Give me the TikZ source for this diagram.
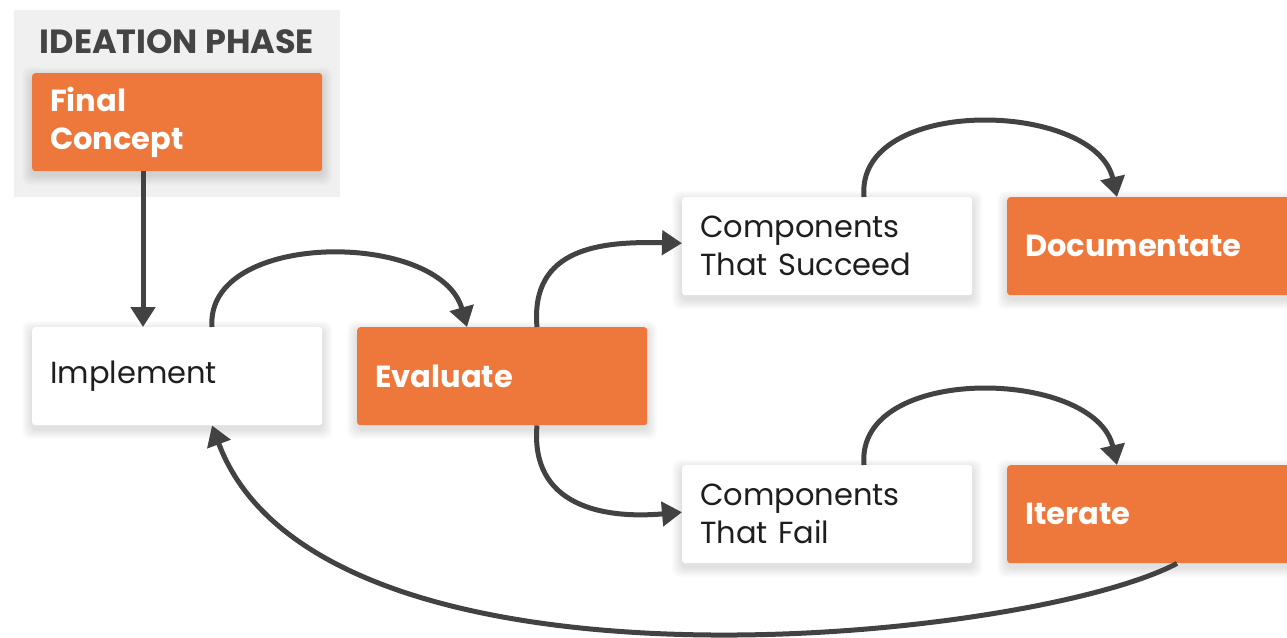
\documentclass[tikz,border=0pt]{standalone}
\usepackage{fontspec}
\setmainfont{Poppins}
\usetikzlibrary{arrows.meta,calc,backgrounds}
\definecolor{orng}{HTML}{EE783B}
\definecolor{arr}{HTML}{424242}
\definecolor{bggray}{HTML}{F0F0F0}
\definecolor{txt}{HTML}{1E1E1E}
\definecolor{head}{HTML}{444444}
\pgfdeclarelayer{shadowlayer}
\pgfsetlayers{background,shadowlayer,main}
\tikzset{
  box/.style={rectangle, rounded corners=3pt, minimum width=290pt, minimum height=98pt,
    text width=254pt, align=left, inner xsep=18pt, inner ysep=0pt, anchor=north west,
    font=\fontsize{30.5}{38}\selectfont},
  whitebox/.style={box, fill=white, text=txt},
  orangebox/.style={box, fill=orng, text=white, font=\fontsize{30.5}{38}\selectfont\bfseries},
  conn/.style={draw=arr, line width=5pt, -{Triangle[width=24pt,length=20pt]}},
}
\newcommand{\softshadow}[1]{%
  \begin{pgfonlayer}{shadowlayer}
  \foreach \s in {1,...,10}{
    \fill[black, opacity=0.012, rounded corners=8pt]
      ($(#1.north west)+(-\s,-\s+4)$) rectangle ($(#1.south east)+(\s,\s+4)$);
  }
  \end{pgfonlayer}}
\begin{document}
\begin{tikzpicture}[x=1pt,y=-1pt]
\useasboundingbox (0,0) rectangle (1287,637);
\begin{pgfonlayer}{background}
\fill[bggray] (14,10) rectangle (340,197);
\end{pgfonlayer}
\node[font=\fontsize{33.5}{38}\selectfont\bfseries, text=head, anchor=center] (phase) at (177,42) {IDEATION PHASE};

\node[orangebox] (final) at (32,73) {Final\\Concept};
\node[whitebox] (impl) at (32,327) {Implement};
\node[orangebox] (eval) at (357,327) {Evaluate};
\node[whitebox] (succ) at (682,197) {Components\\That Succeed};
\node[orangebox] (doc) at (1007,197) {Documentate};
\node[whitebox] (fail) at (682,465) {Components\\That Fail};
\node[orangebox] (iter) at (1007,465) {Iterate};

\softshadow{final}
\softshadow{impl}
\softshadow{eval}
\softshadow{succ}
\softshadow{doc}
\softshadow{fail}
\softshadow{iter}

\draw[conn] ($(final.south west)+(111,0)$) -- ($(impl.north west)+(111,0)$);
\draw[conn] ($(impl.north west)+(180,0)$) .. controls ($(impl.north west)+(173,-97)$) and ($(eval.north west)+(83,-97)$) .. ($(eval.north west)+(110,0)$);
\draw[conn] ($(eval.north west)+(180,0)$) .. controls ($(eval.north west)+(173,-80)$) and ($(succ.west)+(-80,-5)$) .. ($(succ.west)+(0,-3)$);
\draw[conn] ($(eval.south west)+(180,0)$) .. controls ($(eval.south west)+(173,80)$) and ($(fail.west)+(-80,5)$) .. ($(fail.west)+(0,-2)$);
\draw[conn] ($(succ.north west)+(182,0)$) .. controls ($(succ.north west)+(173,-102)$) and ($(doc.north west)+(88,-97)$) .. ($(doc.north west)+(110,0)$);
\draw[conn] ($(fail.north west)+(182,0)$) .. controls ($(fail.north west)+(173,-102)$) and ($(iter.north west)+(88,-97)$) .. ($(iter.north west)+(110,0)$);
\draw[conn] ($(iter.south west)+(170,0)$) .. controls ($(iter.south west)+(23,78)$) and (320,715) .. ($(impl.south west)+(180,0)$);
\end{tikzpicture}
\end{document}
